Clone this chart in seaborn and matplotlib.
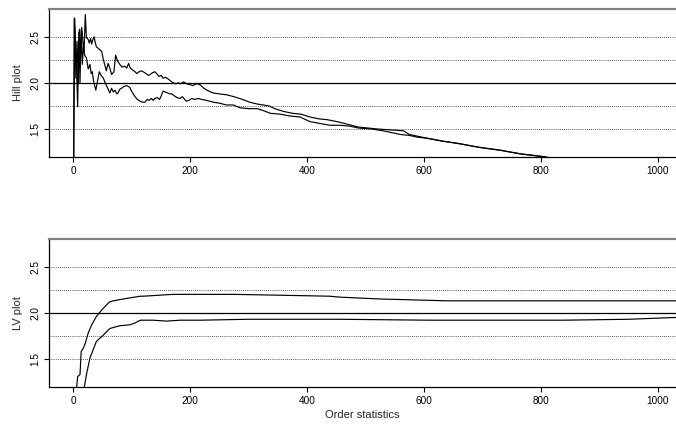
"""
Hill plot and LV plot of order statistics, two estimates per panel
"""

import matplotlib
matplotlib.use("Agg")
import matplotlib.pyplot as plt
import seaborn as sns

# Hill plot, upper curve
hill_upper_k = [1, 3, 5, 7, 9, 11, 13, 15, 17, 19, 21, 23, 26, 28, 30, 32, 34, 36, 38, 40,
                44, 49, 52, 55, 57, 60, 63, 66, 70, 73, 76, 80, 84, 88, 92, 95, 98, 102, 106,
                109, 113, 117, 120, 125, 129, 132, 136, 140, 143, 147, 151, 154, 158, 163,
                167, 171, 176, 180, 184, 189, 194, 200, 205, 211, 217, 224, 232, 240, 250,
                263, 275, 290, 302, 315, 325, 335, 345, 360, 375, 390, 405, 420, 435, 451,
                470, 488, 505, 520, 542, 565, 575, 590, 605, 630, 661, 695, 730, 765, 804,
                830, 900, 990]
hill_upper = [0.90, 2.70, 2.05, 2.45, 2.00, 2.58, 2.30, 2.60, 2.45, 2.35, 2.74, 2.49, 2.47,
              2.43, 2.48, 2.42, 2.47, 2.50, 2.44, 2.39, 2.37, 2.34, 2.25, 2.18, 2.13, 2.21,
              2.16, 2.09, 2.12, 2.30, 2.24, 2.20, 2.17, 2.18, 2.16, 2.21, 2.16, 2.14, 2.12,
              2.10, 2.12, 2.13, 2.12, 2.10, 2.08, 2.09, 2.11, 2.12, 2.10, 2.07, 2.08, 2.05,
              2.06, 2.04, 2.02, 2.00, 1.99, 2.00, 1.99, 2.01, 1.99, 1.98, 1.97, 1.99, 1.98,
              1.94, 1.91, 1.89, 1.88, 1.87, 1.85, 1.82, 1.79, 1.77, 1.76, 1.75, 1.72, 1.69,
              1.67, 1.66, 1.63, 1.61, 1.60, 1.58, 1.55, 1.52, 1.51, 1.50, 1.49, 1.48, 1.44,
              1.42, 1.40, 1.37, 1.34, 1.30, 1.27, 1.23, 1.20, 1.17, 1.10, 1.02]

# Hill plot, lower curve
hill_lower_k = [1, 2, 4, 6, 8, 10, 12, 14, 16, 18, 20, 23, 26, 29, 31, 33, 35, 37, 39, 42,
                45, 48, 52, 55, 58, 61, 63, 66, 69, 72, 75, 77, 80, 83, 87, 92, 97, 101, 106,
                110, 115, 119, 123, 127, 130, 134, 137, 140, 144, 148, 151, 154, 158, 162,
                165, 169, 173, 178, 183, 187, 191, 194, 198, 203, 208, 214, 220, 228, 240,
                250, 262, 274, 285, 300, 315, 325, 337, 355, 371, 388, 405, 422, 439, 456,
                474, 488, 510, 530, 545, 560, 575, 590, 605, 630, 661, 695, 730, 765, 804,
                830, 900, 990]
hill_lower = [0.90, 2.70, 2.50, 2.20, 1.74, 2.55, 2.00, 2.58, 2.20, 2.40, 2.30, 2.27, 2.15,
              2.20, 2.10, 2.12, 2.03, 1.97, 1.92, 2.02, 2.12, 2.08, 2.05, 2.00, 1.96, 1.92,
              1.89, 1.94, 1.90, 1.92, 1.88, 1.89, 1.93, 1.94, 1.96, 1.97, 1.95, 1.90, 1.85,
              1.82, 1.80, 1.79, 1.79, 1.82, 1.81, 1.83, 1.81, 1.83, 1.84, 1.82, 1.86, 1.91,
              1.90, 1.89, 1.88, 1.88, 1.86, 1.84, 1.83, 1.85, 1.82, 1.80, 1.81, 1.83, 1.82,
              1.83, 1.82, 1.81, 1.79, 1.78, 1.76, 1.76, 1.73, 1.72, 1.72, 1.70, 1.67, 1.66,
              1.64, 1.63, 1.58, 1.56, 1.54, 1.54, 1.53, 1.51, 1.50, 1.48, 1.46, 1.44, 1.43,
              1.41, 1.40, 1.37, 1.34, 1.30, 1.27, 1.23, 1.20, 1.17, 1.10, 1.02]

# LV plot, upper curve
lv_upper_k = [6, 8, 12, 14, 18, 21, 26, 32, 40, 49, 58, 63, 69, 86, 115, 120, 171, 200,
              274, 359, 439, 456, 525, 639, 781, 900, 1031]
lv_upper = [1.18, 1.31, 1.33, 1.58, 1.62, 1.67, 1.78, 1.87, 1.96, 2.03, 2.09, 2.12, 2.13,
            2.15, 2.18, 2.18, 2.20, 2.20, 2.20, 2.19, 2.18, 2.17, 2.15, 2.13, 2.13, 2.13,
            2.13]

# LV plot, lower curve
lv_lower_k = [19, 23, 29, 40, 52, 63, 80, 97, 106, 115, 137, 160, 183, 217, 300, 456, 610,
              838, 950, 1031]
lv_lower = [1.18, 1.33, 1.51, 1.69, 1.76, 1.83, 1.86, 1.87, 1.89, 1.92, 1.92, 1.91, 1.92,
            1.92, 1.93, 1.93, 1.92, 1.92, 1.93, 1.95]

y_ticks = [1.5, 2.0, 2.5]
x_ticks = [0, 200, 400, 600, 800, 1000]
dotted_levels = [1.5, 1.75, 2.25, 2.5]

sns.set_theme(style="ticks")
plt.rcParams['font.family'] = ['Liberation Sans', 'DejaVu Sans']

W, H = 676, 425
fig = plt.figure(figsize=(W / 100, H / 100), dpi=100)
ax1 = fig.add_axes([49 / W, 1 - 157 / H, 1 - 49 / W, (157 - 9) / H])
ax2 = fig.add_axes([49 / W, 1 - 387 / H, 1 - 49 / W, (387 - 239) / H])

panels = [
    (ax1, "Hill plot", [(hill_upper_k, hill_upper), (hill_lower_k, hill_lower)]),
    (ax2, "LV plot", [(lv_upper_k, lv_upper), (lv_lower_k, lv_lower)]),
]

for ax, label, curves in panels:
    for lvl in dotted_levels:
        ax.axhline(lvl, color="#222222", linestyle=(0, (1, 1.5)), linewidth=0.6, zorder=1)
    ax.axhline(2.0, color="black", linewidth=0.9, zorder=1)
    for k, vals in curves:
        sns.lineplot(x=k, y=vals, ax=ax, color="black", linewidth=0.85,
                     estimator=None, sort=False, zorder=2)
    ax.set_xlim(-41, 1031)
    ax.set_ylim(1.196, 2.80)
    ax.set_yticks(y_ticks)
    ax.set_yticklabels([f"{v:.1f}" for v in y_ticks], rotation=90, va="center")
    ax.set_xticks(x_ticks)
    ax.tick_params(axis="both", direction="out", length=3.5, width=0.8,
                   labelsize=7.2, colors="black", pad=3)
    ax.set_ylabel(label, fontsize=8, labelpad=5)
    ax.spines["right"].set_visible(False)
    ax.spines["top"].set_color("#808080")
    ax.spines["top"].set_linewidth(1.6)
    ax.spines["left"].set_color("black")
    ax.spines["bottom"].set_color("black")
    ax.spines["left"].set_linewidth(0.9)
    ax.spines["bottom"].set_linewidth(0.9)
    ax.set_facecolor("white")

ax1.set_xlabel("")
ax2.set_xlabel("Order statistics", fontsize=8, labelpad=3)

plt.savefig("out.png", dpi=100)
plt.close()
